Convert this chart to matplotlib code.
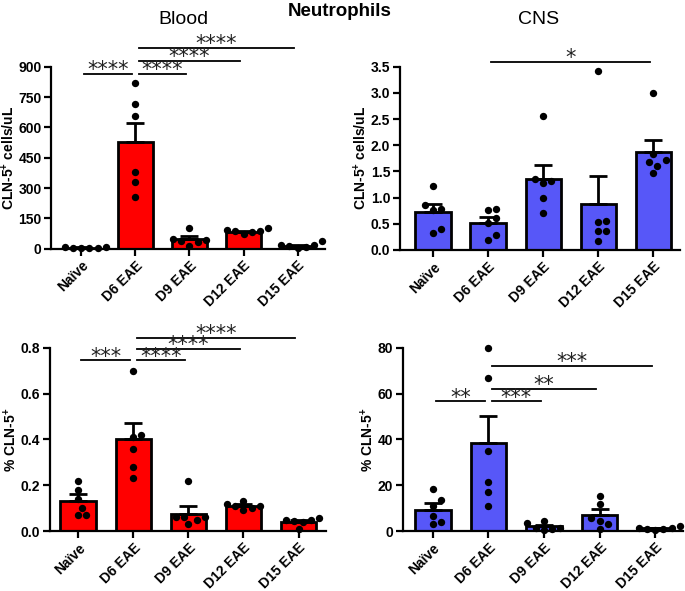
import matplotlib
matplotlib.use("Agg")
import matplotlib.pyplot as plt
import numpy as np

plt.rcParams['font.family'] = ['Liberation Sans', 'DejaVu Sans']
plt.rcParams['mathtext.fontset'] = 'custom'
plt.rcParams['mathtext.rm'] = 'Liberation Sans:bold'
plt.rcParams['mathtext.bf'] = 'Liberation Sans:bold'
plt.rcParams['mathtext.it'] = 'Liberation Sans:bold'

categories = ["Naïve", "D6 EAE", "D9 EAE", "D12 EAE", "D15 EAE"]

# Blood, cells/uL
blood_count_pts = [
    [6, 4, 7, 5, 3, 8],
    [822, 715, 658, 378, 330, 255],
    [105, 50, 45, 40, 35, 15],
    [92, 90, 88, 85, 75, 105],
    [10, 20, 20, 15, 5, 38],
]
blood_count_mean = [5.5, 526, 48, 84, 15]
blood_count_sem = [1.0, 97, 15, 4.5, 5]

# CNS, cells/uL
cns_count_pts = [
    [1.23, 0.86, 0.78, 0.76, 0.41, 0.33],
    [0.76, 0.78, 0.62, 0.52, 0.29, 0.19],
    [2.56, 1.35, 1.32, 1.28, 1.00, 0.70],
    [3.42, 0.56, 0.53, 0.36, 0.36, 0.17],
    [2.99, 1.83, 1.69, 1.72, 1.61, 1.48],
]
cns_count_mean = [0.72, 0.52, 1.35, 0.88, 1.87]
cns_count_sem = [0.15, 0.11, 0.27, 0.53, 0.24]

# Blood, % CLN-5+
blood_pct_pts = [
    [0.22, 0.18, 0.14, 0.10, 0.07, 0.07],
    [0.70, 0.42, 0.41, 0.36, 0.28, 0.23],
    [0.22, 0.06, 0.06, 0.06, 0.05, 0.03],
    [0.13, 0.12, 0.11, 0.10, 0.11, 0.09],
    [0.055, 0.05, 0.05, 0.045, 0.04, 0.01],
]
blood_pct_mean = [0.13, 0.40, 0.075, 0.11, 0.04]
blood_pct_sem = [0.03, 0.07, 0.033, 0.01, 0.007]

# CNS, % CLN-5+
cns_pct_pts = [
    [18.4, 13.6, 11.0, 6.4, 3.8, 2.9],
    [80.0, 66.6, 34.9, 21.6, 17.1, 10.9],
    [3.3, 4.5, 1.5, 1.0, 1.5, 0.3],
    [15.3, 11.6, 5.5, 4.2, 3.0, 0.8],
    [2.3, 1.5, 1.2, 0.8, 0.5, 1.0],
]
cns_pct_mean = [9.3, 38.3, 2.0, 7.0, 1.2]
cns_pct_sem = [2.9, 11.9, 0.8, 2.8, 0.3]

# significance annotations: (group a, group b, y, label)
blood_count_sig = [(0, 1, 864, "****"), (1, 2, 864, "****"),
                   (1, 3, 928, "****"), (1, 4, 993, "****")]
cns_count_sig = [(1, 4, 3.6, "*")]
blood_pct_sig = [(0, 1, 0.745, "***"), (1, 2, 0.745, "****"),
                 (1, 3, 0.796, "****"), (1, 4, 0.844, "****")]
cns_pct_sig = [(0, 1, 56.6, "**"), (1, 2, 56.6, "***"),
               (1, 3, 62.0, "**"), (1, 4, 72.0, "***")]

RED = "#FF0000"
BLUE = "#5757F8"

fig = plt.figure(figsize=(6.85, 5.91), dpi=100)


def swarm_offsets(yvals_px, diam_px, unit_px):
    """Simple beeswarm: returns x offsets (data units) avoiding overlaps."""
    placed = []
    offs = np.zeros(len(yvals_px))
    order = np.argsort(yvals_px)
    for idx in order:
        y = yvals_px[idx]
        cands = [0]
        for k in range(1, 8):
            cands += [k * diam_px * 0.55, -k * diam_px * 0.55]
        for c in cands:
            if all((c - px) ** 2 + (y - py) ** 2 >= diam_px ** 2 for px, py in placed):
                placed.append((c, y))
                offs[idx] = c / unit_px
                break
    return offs


def panel(rect, pts, mean, sem, color, ylim, yticks, yticklabels, ylabel, sigs, xlim):
    ax = fig.add_axes(rect)
    x = np.arange(len(categories))
    ax.bar(x, mean, width=0.64, color=color, edgecolor='black', linewidth=2, zorder=2)
    ax.errorbar(x, mean, yerr=[np.zeros(len(sem)), sem], fmt='none', ecolor='black',
                elinewidth=2, capsize=6.5, capthick=2, zorder=3)
    ax.set_xlim(*xlim)
    ax.set_ylim(*ylim)
    h_px = rect[3] * 591
    w_px = rect[2] * 685
    unit_px = w_px / (xlim[1] - xlim[0])
    for i, p in enumerate(pts):
        ypx = np.array(p) / (ylim[1] - ylim[0]) * h_px
        offs = swarm_offsets(ypx, 7.5, unit_px)
        ax.scatter(x[i] + offs, p, s=28, color='black', zorder=4, clip_on=False,
                   linewidths=0)
    ax.set_yticks(yticks)
    ax.set_yticklabels(yticklabels, fontsize=10, fontweight='bold')
    ax.set_xticks(x)
    ax.set_xticklabels(categories, rotation=45, ha='right', rotation_mode='anchor',
                       fontsize=10, fontweight='bold')
    ax.spines['top'].set_visible(False)
    ax.spines['right'].set_visible(False)
    ax.spines['left'].set_linewidth(1.6)
    ax.spines['bottom'].set_linewidth(1.6)
    ax.tick_params(axis='both', width=1.6, length=5, pad=2)
    ax.set_ylabel(ylabel, fontsize=10, fontweight='bold', labelpad=1)
    for a, b, y, lab in sigs:
        x0 = a + 0.06
        x1 = b - 0.06
        ax.plot([x0, x1], [y, y], color='black', lw=1.3, clip_on=False)
        xc = (x0 + x1) / 2
        ax.annotate(lab, (xc, y), xytext=(0, -1.6), textcoords='offset points',
                    ha='center', va='baseline', fontsize=15, family='DejaVu Sans',
                    color='#222222', annotation_clip=False)
    return ax


panel([0.075, 0.579, 0.399, 0.308], blood_count_pts, blood_count_mean, blood_count_sem, RED,
      (0, 900), [0, 150, 300, 450, 600, 750, 900], ["0", "150", "300", "450", "600", "750", "900"],
      "CLN-5$^{+}$ cells/uL", blood_count_sig, (-0.55, 4.5))
panel([0.584, 0.577, 0.409, 0.310], cns_count_pts, cns_count_mean, cns_count_sem, BLUE,
      (0, 3.5), [0, 0.5, 1, 1.5, 2, 2.5, 3, 3.5],
      ["0.0", "0.5", "1.0", "1.5", "2.0", "2.5", "3.0", "3.5"],
      "CLN-5$^{+}$ cells/uL", cns_count_sig, (-0.6, 4.49))
panel([0.073, 0.1015, 0.403, 0.310], blood_pct_pts, blood_pct_mean, blood_pct_sem, RED,
      (0, 0.8), [0, 0.2, 0.4, 0.6, 0.8], ["0.0", "0.2", "0.4", "0.6", "0.8"],
      "% CLN-5$^{+}$", blood_pct_sig, (-0.51, 4.5))
panel([0.588, 0.1015, 0.409, 0.310], cns_pct_pts, cns_pct_mean, cns_pct_sem, BLUE,
      (0, 80), [0, 20, 40, 60, 80], ["0", "20", "40", "60", "80"],
      "% CLN-5$^{+}$", cns_pct_sig, (-0.54, 4.5))

fig.text(183 / 685, 1 - 20 / 591, "Blood", ha='center', va='center', fontsize=14)
fig.text(539 / 685, 1 - 20 / 591, "CNS", ha='center', va='center', fontsize=14)
fig.text(340 / 685, 1 - 11 / 591, "Neutrophils", ha='center', va='center', fontsize=13.5,
         fontweight='bold')

fig.savefig("out.png", dpi=100)
